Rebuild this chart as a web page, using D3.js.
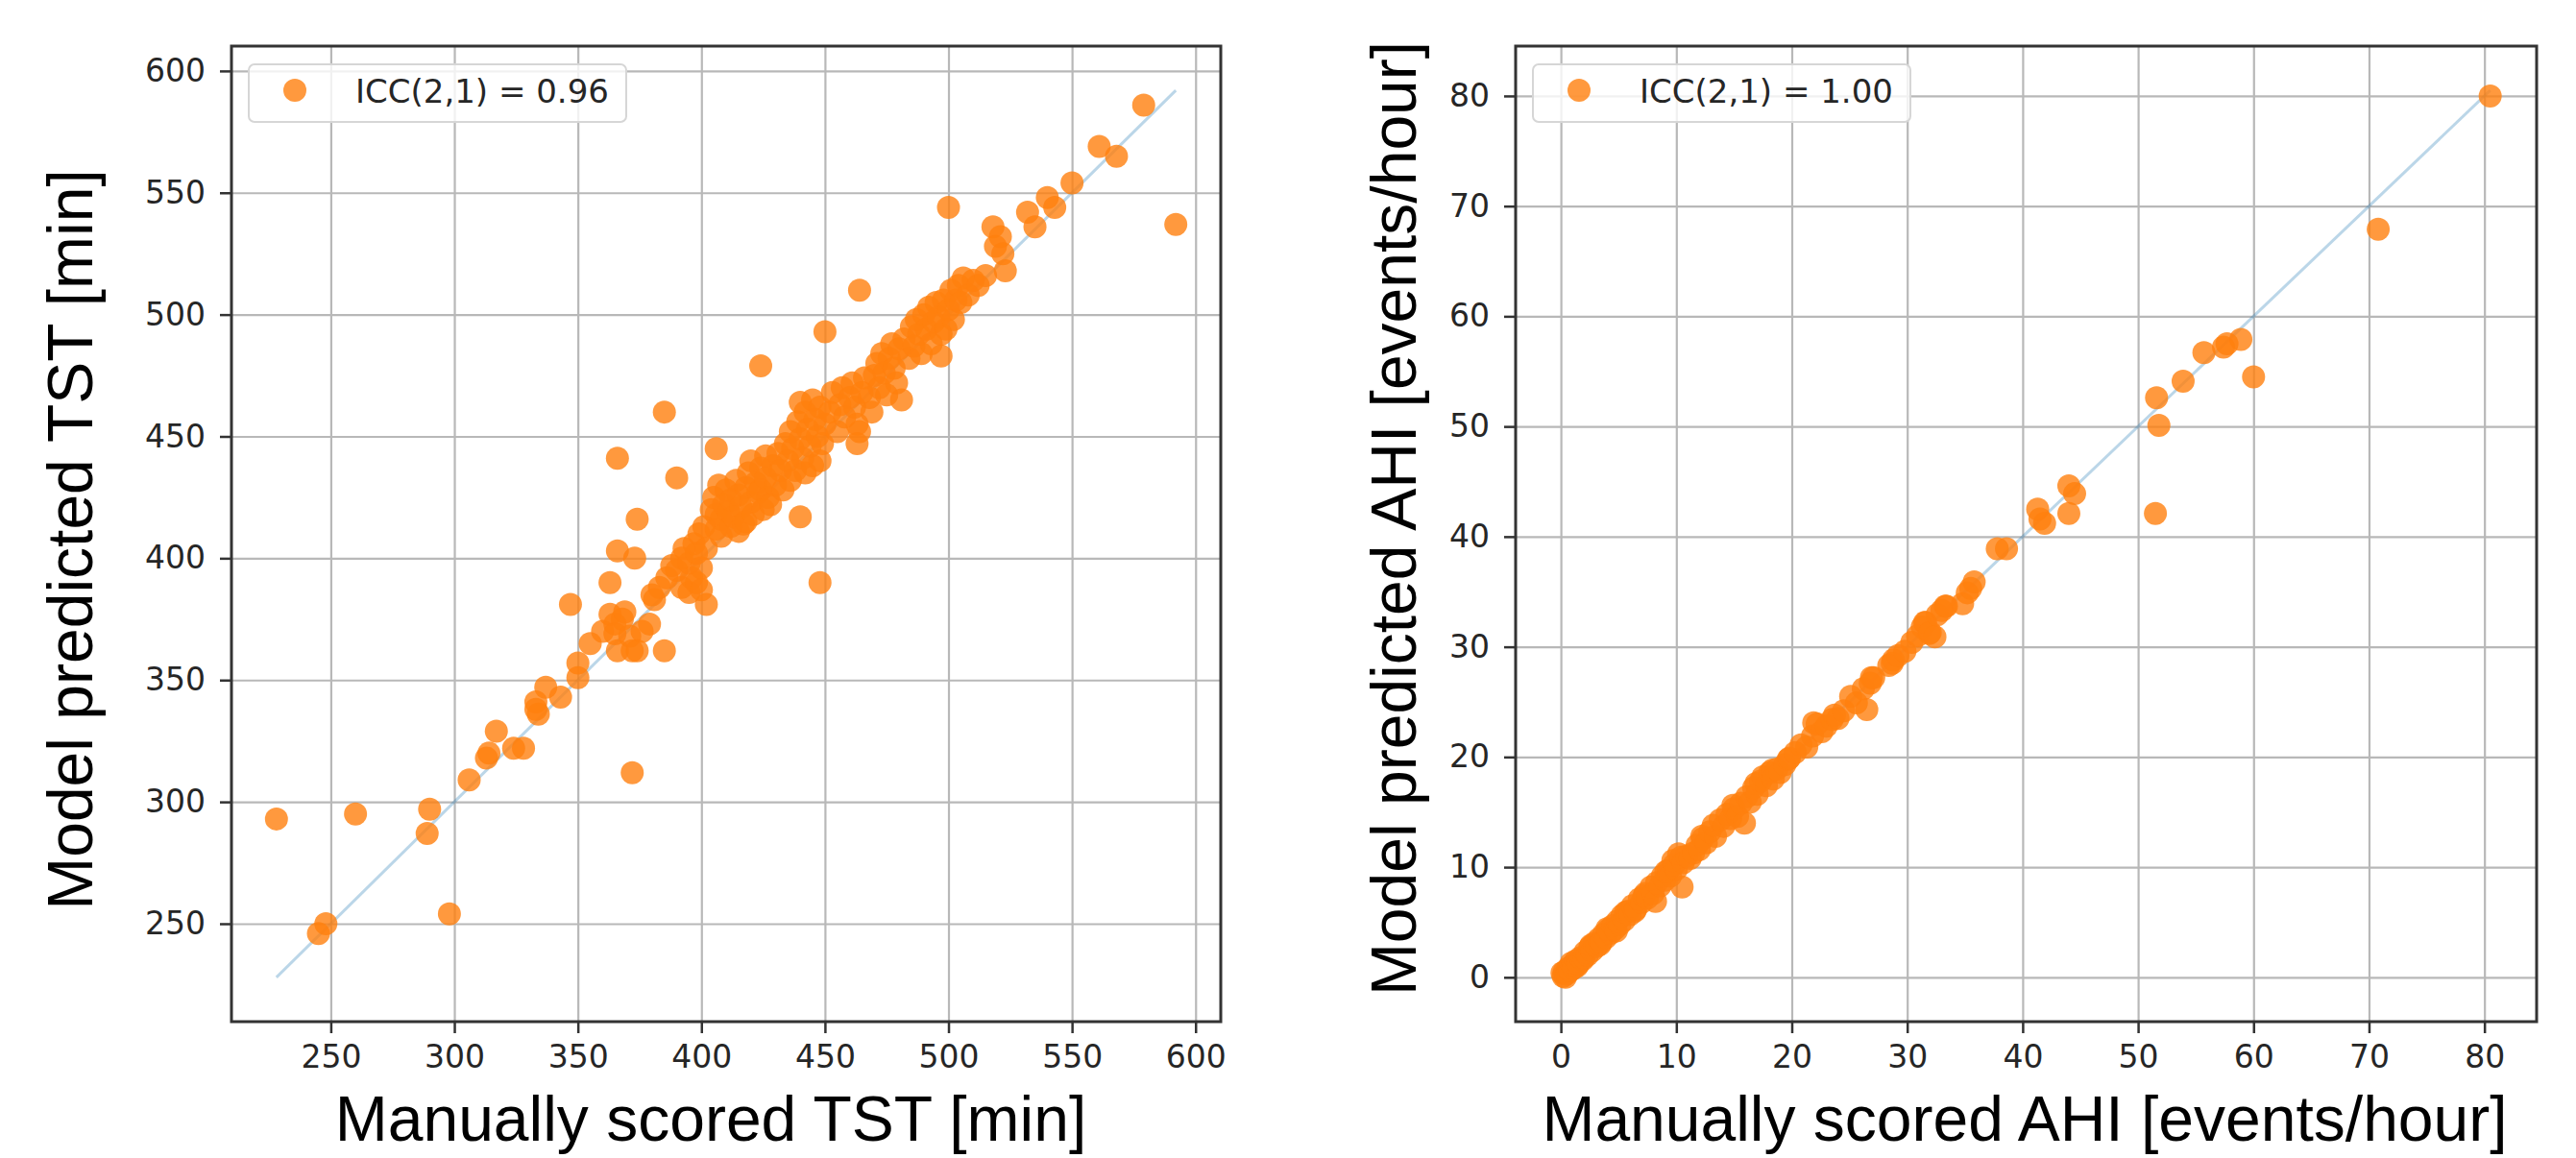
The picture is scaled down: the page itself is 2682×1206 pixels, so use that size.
<!DOCTYPE html>
<html>
  <head>
    <meta charset="UTF-8" />
    <title>TST and AHI agreement</title>
    <script src="https://d3js.org/d3.v7.min.js"></script>
    <style>
      * {
        margin: 0;
        padding: 0;
        box-sizing: border-box;
      }
      body {
        background-color: #ffffff;
      }
      svg {
        display: block;
      }
      .tick text {
        font-family: "DejaVu Sans", sans-serif;
        font-size: 33px;
        fill: #262626;
      }
      .tick line {
        stroke: #333333;
        stroke-width: 2.5;
      }
      .grid line {
        stroke: #b8b8b8;
        stroke-width: 2.2;
      }
      .grid .domain,
      .axis .domain {
        display: none;
      }
      .axis-label {
        font-family: "Liberation Sans", Arial, sans-serif;
        font-size: 66px;
        fill: #000000;
      }
      .legend-text {
        font-family: "DejaVu Sans", sans-serif;
        font-size: 34px;
        fill: #262626;
      }
    </style>
  </head>
  <body>
    <svg id="chart" width="2682" height="1206"></svg>
  </body>
  <script>
    // [manually scored, model predicted] in minutes
    const tstPoints = [
      [228, 293], [245, 246], [248, 250], [260, 295], [289, 287], [290, 297], [298, 254],
      [306, 309], [313, 318], [314, 320], [317, 329], [324, 322], [328, 322], [333, 341],
      [334, 336], [333, 338], [337, 347], [343, 343], [347, 381], [350, 357], [350, 351],
      [355, 365], [360, 370], [363, 390], [363, 377], [365, 373], [365, 369], [366, 362],
      [366, 403], [366, 441], [368, 375], [369, 378], [371, 368], [372, 312], [372, 362],
      [373, 400], [374, 362], [374, 416], [376, 370], [379, 373], [381, 383], [380, 385],
      [383, 388], [385, 460], [385, 362], [386, 392], [388, 397], [390, 395], [390, 433],
      [392, 400], [392, 388], [393, 404], [395, 398], [395, 386], [396, 392], [397, 406],
      [398, 402], [398, 390], [399, 410], [400, 396], [400, 387], [401, 413], [402, 404],
      [402, 381], [404, 420], [405, 425], [406, 445], [406, 418], [406, 412], [407, 430],
      [408, 416], [408, 409], [409, 422], [410, 428], [411, 419], [412, 424], [412, 413],
      [413, 417], [414, 432], [415, 426], [415, 411], [416, 421], [417, 414], [418, 429],
      [418, 415], [419, 435], [420, 423], [420, 440], [421, 418], [422, 431], [423, 427],
      [424, 437], [424, 428], [424, 479], [425, 420], [426, 433], [426, 442], [427, 425],
      [428, 422], [429, 438], [430, 430], [431, 443], [432, 436], [433, 428], [434, 447],
      [435, 440], [436, 452], [436, 432], [437, 445], [438, 436], [439, 456], [440, 449],
      [440, 464], [440, 417], [441, 441], [442, 460], [442, 435], [443, 453], [444, 446],
      [445, 438], [445, 465], [446, 457], [447, 450], [448, 462], [448, 440], [448, 390],
      [449, 447], [450, 455], [450, 493], [452, 460], [453, 468], [455, 452], [456, 463],
      [457, 470], [458, 458], [460, 466], [461, 472], [462, 462], [463, 455], [463, 447],
      [464, 510], [464, 452], [465, 468], [466, 474], [468, 466], [469, 460], [470, 475],
      [471, 480], [472, 470], [473, 484], [474, 476], [475, 467], [476, 482], [477, 488],
      [478, 478], [479, 472], [480, 486], [481, 465], [482, 490], [484, 482], [485, 495],
      [486, 487], [487, 498], [488, 492], [489, 484], [490, 500], [491, 494], [492, 503],
      [493, 488], [494, 497], [495, 505], [496, 499], [497, 483], [497, 492], [498, 506],
      [499, 494], [500, 502], [500, 544], [501, 510], [502, 498], [503, 506], [504, 512],
      [505, 505], [506, 515], [508, 508], [510, 514], [512, 512], [515, 516], [518, 536],
      [519, 528], [521, 532], [522, 525], [523, 518], [532, 542], [535, 536], [540, 548],
      [543, 544], [550, 554], [561, 569], [568, 565], [579, 586], [592, 537]
    ];

    // [manually scored, model predicted] in events/hour
    const ahiPoints = [
      [0.1, 0.4], [0.2, 0.1], [0.3, 0.5], [0.4, 0.0], [0.5, 0.3], [0.6, 0.8], [0.8, 0.6],
      [0.9, 1.3], [1.0, 1.1], [1.1, 0.8], [1.3, 1.5], [1.4, 1.0], [1.5, 1.2], [1.7, 1.8],
      [1.9, 1.6], [2.0, 1.8], [2.1, 2.3], [2.3, 2.0], [2.5, 2.7], [2.6, 2.9], [2.7, 2.4],
      [2.9, 3.1], [3.1, 2.8], [3.3, 3.5], [3.4, 3.0], [3.5, 3.2], [3.7, 3.9], [3.9, 3.6],
      [4.0, 4.4], [4.1, 4.3], [4.3, 4.0], [4.5, 4.7], [4.7, 4.4], [4.8, 4.2], [4.9, 5.1],
      [5.1, 4.8], [5.3, 5.6], [5.5, 5.2], [5.6, 5.9], [5.8, 6.0], [6.0, 5.7], [6.2, 6.5],
      [6.4, 6.0], [6.5, 6.2], [6.8, 7.1], [7.0, 6.8], [7.2, 7.4], [7.3, 7.6], [7.5, 7.2],
      [7.8, 8.2], [8.0, 7.6], [8.2, 6.9], [8.3, 8.6], [8.6, 8.3], [8.8, 9.2], [9.0, 8.8],
      [9.1, 9.6], [9.3, 9.7], [9.5, 9.2], [9.7, 10.6], [9.8, 10.2], [10.0, 9.8], [10.2, 11.2],
      [10.4, 10.9], [10.5, 8.2], [10.6, 10.4], [10.9, 11.0], [11.2, 10.8], [11.5, 11.3],
      [11.8, 12.0], [12.0, 11.6], [12.2, 12.8], [12.3, 12.6], [12.6, 12.2], [12.9, 13.2],
      [13.2, 13.8], [13.4, 12.8], [13.8, 14.3], [14.1, 13.7], [14.4, 14.8], [14.7, 14.4],
      [14.9, 15.6], [15.0, 15.3], [15.3, 14.6], [15.6, 15.8], [15.9, 14.0], [16.1, 16.4],
      [16.4, 15.9], [16.7, 17.2], [16.9, 17.6], [17.0, 16.6], [17.3, 17.8], [17.5, 18.2],
      [17.8, 17.4], [18.1, 18.6], [18.3, 18.8], [18.4, 18.0], [18.7, 18.9], [19.0, 18.6],
      [19.4, 19.3], [19.7, 19.8], [19.8, 19.9], [20.3, 20.4], [20.8, 21.1], [21.3, 20.9],
      [21.8, 21.9], [21.9, 23.1], [22.2, 23.0], [22.6, 22.3], [23.0, 22.8], [23.5, 23.4],
      [23.7, 23.8], [24.0, 23.5], [24.5, 24.2], [25.1, 25.5], [25.6, 24.9], [26.2, 26.2],
      [26.5, 24.3], [26.8, 26.7], [26.9, 27.2], [27.1, 27.2], [28.4, 28.3], [28.7, 28.5],
      [28.8, 28.8], [29.2, 29.2], [29.8, 29.6], [30.4, 30.4], [30.9, 31.0], [31.3, 31.8],
      [31.5, 32.2], [31.6, 32.2], [31.9, 31.2], [32.0, 31.3], [32.4, 30.9], [32.6, 32.9],
      [33.0, 33.3], [33.3, 33.7], [33.4, 33.7], [34.8, 33.9], [35.2, 34.9], [35.5, 35.3],
      [35.8, 35.9], [37.8, 38.9], [38.6, 38.9], [41.3, 42.5], [41.5, 41.6], [41.9, 41.2],
      [44.0, 44.6], [44.5, 43.9], [44.0, 42.1], [51.5, 42.1], [51.6, 52.6], [51.8, 50.1],
      [53.9, 54.1], [55.7, 56.7], [57.4, 57.2], [57.7, 57.5], [58.9, 57.9], [60.0, 54.5],
      [70.8, 67.9], [80.5, 80.0]
    ];

    const tstTicks = [250, 300, 350, 400, 450, 500, 550, 600];
    const ahiTicks = [0, 10, 20, 30, 40, 50, 60, 70, 80];

    const svg = d3.select("#chart");

    function padded(ext) {
      const d = (ext[1] - ext[0]) * 0.05;
      return [ext[0] - d, ext[1] + d];
    }

    function drawPanel(opts) {
      const { points, ticks, box, legendLabel, xLabel, yLabel } = opts;
      const g = svg.append("g");

      // identity line spans the manual range
      const lo = d3.min(points, (d) => d[0]);
      const hi = d3.max(points, (d) => d[0]);
      const xDomain = padded([lo, hi]);
      const yDomain = padded(d3.extent(points.map((d) => d[1]).concat([lo, hi])));

      const x = d3.scaleLinear().domain(xDomain).range([box.x0, box.x1]);
      const y = d3.scaleLinear().domain(yDomain).range([box.y1, box.y0]);

      // grid
      g.append("g")
        .attr("class", "grid")
        .attr("transform", `translate(0,${box.y1})`)
        .call(d3.axisBottom(x).tickValues(ticks).tickSize(-(box.y1 - box.y0)).tickFormat(""));
      g.append("g")
        .attr("class", "grid")
        .attr("transform", `translate(${box.x0},0)`)
        .call(d3.axisLeft(y).tickValues(ticks).tickSize(-(box.x1 - box.x0)).tickFormat(""));

      // diagonal
      g.append("line")
        .attr("x1", x(lo))
        .attr("y1", y(lo))
        .attr("x2", x(hi))
        .attr("y2", y(hi))
        .attr("stroke", "#1f77b4")
        .attr("stroke-opacity", 0.3)
        .attr("stroke-width", 3);

      // points
      g.append("g")
        .selectAll("circle")
        .data(points)
        .join("circle")
        .attr("cx", (d) => x(d[0]))
        .attr("cy", (d) => y(d[1]))
        .attr("r", 12)
        .attr("fill", "#ff7f0e")
        .attr("fill-opacity", 0.8);

      // axes
      g.append("g")
        .attr("class", "axis")
        .attr("transform", `translate(0,${box.y1})`)
        .call(d3.axisBottom(x).tickValues(ticks).tickSize(12).tickPadding(13));
      g.append("g")
        .attr("class", "axis")
        .attr("transform", `translate(${box.x0},0)`)
        .call(d3.axisLeft(y).tickValues(ticks).tickSize(12).tickPadding(15));

      // frame
      g.append("rect")
        .attr("x", box.x0)
        .attr("y", box.y0)
        .attr("width", box.x1 - box.x0)
        .attr("height", box.y1 - box.y0)
        .attr("fill", "none")
        .attr("stroke", "#333333")
        .attr("stroke-width", 3);

      // legend
      g.append("rect")
        .attr("x", box.x0 + 18)
        .attr("y", 67)
        .attr("width", 393)
        .attr("height", 60)
        .attr("rx", 6)
        .attr("fill", "#ffffff")
        .attr("fill-opacity", 0.8)
        .attr("stroke", "#d6d6d6")
        .attr("stroke-width", 2);
      g.append("circle")
        .attr("cx", box.x0 + 66)
        .attr("cy", 94)
        .attr("r", 12)
        .attr("fill", "#ff7f0e")
        .attr("fill-opacity", 0.8);
      g.append("text")
        .attr("class", "legend-text")
        .attr("x", box.x0 + 129)
        .attr("y", 107)
        .text(legendLabel);

      // axis labels
      g.append("text")
        .attr("class", "axis-label")
        .attr("text-anchor", "middle")
        .attr("x", xLabel.x)
        .attr("y", 1188)
        .text(xLabel.text);
      g.append("text")
        .attr("class", "axis-label")
        .attr("text-anchor", "middle")
        .attr("transform", `translate(${yLabel.x},${yLabel.y}) rotate(-90)`)
        .text(yLabel.text);
    }

    drawPanel({
      points: tstPoints,
      ticks: tstTicks,
      box: { x0: 241, x1: 1271, y0: 48, y1: 1064 },
      legendLabel: "ICC(2,1) = 0.96",
      xLabel: { x: 740, text: "Manually scored TST [min]" },
      yLabel: { x: 96, y: 562, text: "Model predicted TST [min]" }
    });

    drawPanel({
      points: ahiPoints,
      ticks: ahiTicks,
      box: { x0: 1578, x1: 2641, y0: 48, y1: 1064 },
      legendLabel: "ICC(2,1) = 1.00",
      xLabel: { x: 2108, text: "Manually scored AHI [events/hour]" },
      yLabel: { x: 1474, y: 540, text: "Model predicted AHI [events/hour]" }
    });
  </script>
</html>
